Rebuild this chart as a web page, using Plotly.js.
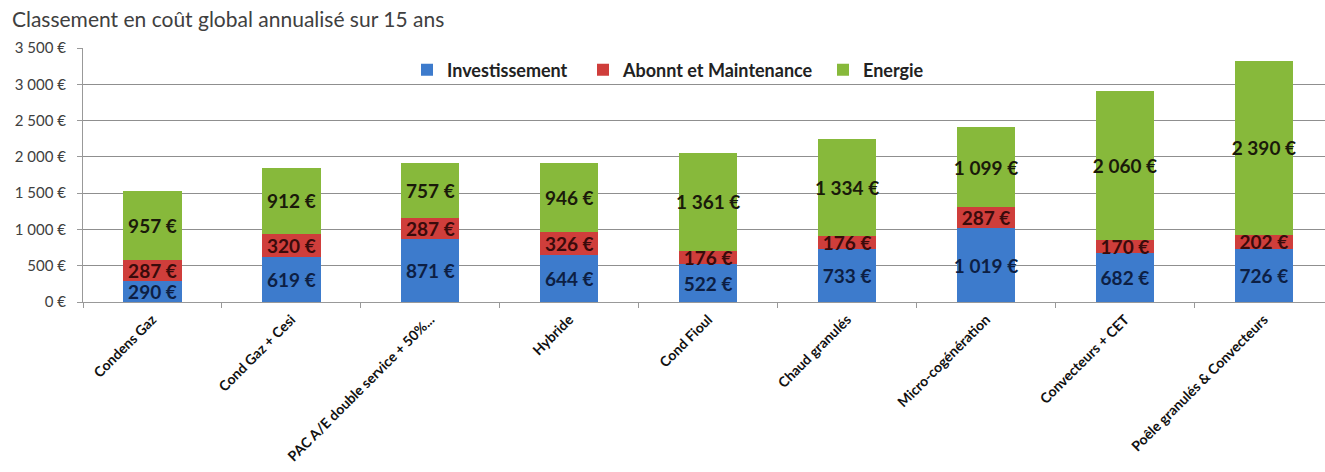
<!DOCTYPE html>
<html>
<head>
<meta charset="utf-8">
<script src="https://cdn.plot.ly/plotly-3.0.1.min.js"></script>
<style>html,body{margin:0;padding:0;background:#fff;}#chart{width:1325px;height:472px;}</style>
</head>
<body>
<div id="chart"></div>
<script>
const categories = ["Condens Gaz", "Cond Gaz + Cesi", "PAC A/E double service + 50%...", "Hybride", "Cond Fioul", "Chaud granulés", "Micro-cogénération", "Convecteurs + CET", "Poêle granulés & Convecteurs"];
const investissement = [290, 619, 871, 644, 522, 733, 1019, 682, 726];
const abonnement = [287, 320, 287, 326, 176, 176, 287, 170, 202];
const energie = [957, 912, 757, 946, 1361, 1334, 1099, 2060, 2390];
const yTickVals = [0, 500, 1000, 1500, 2000, 2500, 3000, 3500];

function fmt(v) {
  const s = String(v);
  return s.replace(/\B(?=(\d{3})+(?!\d))/g, " ") + " €";
}
const yTickText = yTickVals.map(fmt);

const fontFam = "Lato, 'Open Sans', sans-serif";
function series(name, vals, color, txtColor, legendId) {
  return {
    type: "bar", name: name, x: categories, y: vals, legend: legendId,
    text: vals.map(fmt), textposition: "inside", insidetextanchor: "middle",
    textangle: 0, constraintext: "none", cliponaxis: false,
    textfont: {family: fontFam, size: 19, color: txtColor, weight: "bold"},
    marker: {color: color, line: {width: 0}},
    hoverinfo: "skip"
  };
}

const data = [
  series("Investissement", investissement, "#3d7bcc", "#0d1f44", "legend"),
  series("Abonnt et Maintenance", abonnement, "#cf3e3b", "#3a0b0b", "legend2"),
  series("Energie", energie, "#87b93b", "#1a1a0a", "legend3")
];

function legendAt(px) {
  return {
    orientation: "h", x: (px - 83) / 1242, xanchor: "left", y: 0.913, yanchor: "middle",
    bgcolor: "rgba(0,0,0,0)", itemwidth: 30,
    font: {size: 18, color: "#222", family: fontFam, weight: "bold"}
  };
}

const layout = {
  width: 1325, height: 472,
  margin: {l: 83, r: 0, t: 48, b: 170},
  barmode: "stack", bargap: 0.58,
  paper_bgcolor: "#fff", plot_bgcolor: "#fff",
  font: {family: fontFam, color: "#404040"},
  title: {text: "Classement en coût global annualisé sur 15 ans", x: 0.009, xref: "container", xanchor: "left", y: 0.958, yref: "container", yanchor: "middle", font: {size: 21, color: "#404040", family: fontFam}},
  uniformtext: {mode: "show", minsize: 19},
  xaxis: {
    type: "category", range: [-0.5, 8.44], tickangle: -45,
    tickfont: {size: 14, color: "#111", family: fontFam, weight: "bold"},
    ticklabelstandoff: 3,
    showline: true, linecolor: "#999", linewidth: 1,
    ticks: "outside", tickson: "boundaries", ticklen: 5, tickcolor: "#999",
    showgrid: false, zeroline: false, fixedrange: true
  },
  yaxis: {
    range: [0, 3500], tickvals: yTickVals, ticktext: yTickText,
    tickfont: {size: 15, color: "#404040", family: fontFam},
    ticklabelstandoff: 8,
    showgrid: true, gridcolor: "#8f8f8f", gridwidth: 1,
    showline: true, linecolor: "#999", linewidth: 1,
    ticks: "outside", ticklen: 5, tickcolor: "#999",
    zeroline: false, fixedrange: true
  },
  legend: legendAt(407),
  legend2: legendAt(583),
  legend3: legendAt(823),
  showlegend: true
};

Plotly.newPlot("chart", data, layout, {displayModeBar: false, staticPlot: true});
</script>
</body>
</html>
